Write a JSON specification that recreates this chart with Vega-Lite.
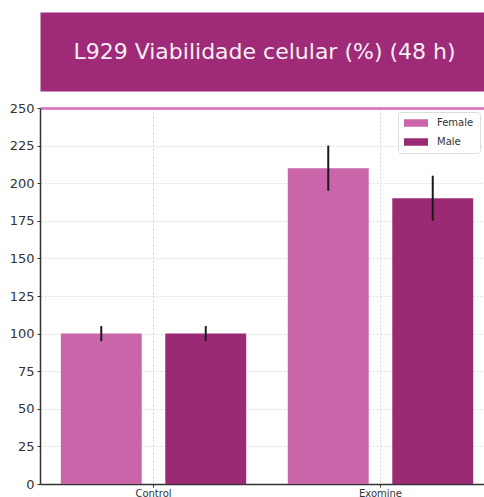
{
  "$schema": "https://vega.github.io/schema/vega-lite/v6.json",
  "autosize": "none",
  "width": 444,
  "height": 376,
  "padding": {"left": 40, "top": 108, "right": 0, "bottom": 13},
  "background": "white",
  "view": {"stroke": null},
  "config": {"axisY": {"labelOverlap": false}},
  "data": {"values": [
    {"group": "Control", "sex": "Female", "value": 100, "lo": 95, "hi": 105},
    {"group": "Control", "sex": "Male", "value": 100, "lo": 95, "hi": 105},
    {"group": "Exomine", "sex": "Female", "value": 210, "lo": 195, "hi": 225},
    {"group": "Exomine", "sex": "Male", "value": 190, "lo": 175, "hi": 205}
  ]},
  "layer": [
    {
      "mark": {"type": "bar"},
      "encoding": {
        "x": {
          "field": "group", "type": "nominal",
          "scale": {"range": [0, 454], "paddingInner": 0, "paddingOuter": 0},
          "axis": {
            "orient": "bottom", "title": null, "labelAngle": 0,
            "domainColor": "#333333", "domainWidth": 1.5,
            "tickColor": "#333333", "tickSize": 3, "tickWidth": 1,
            "labelFont": "DejaVu Sans", "labelFontSize": 10, "labelColor": "#333333", "labelPadding": 1,
            "grid": true, "gridColor": "#c8c8c8", "gridDash": [2, 2], "gridWidth": 0.8,
            "bandPosition": 0.5
          }
        },
        "xOffset": {"field": "sex", "type": "nominal", "scale": {"paddingInner": 0.2255, "paddingOuter": 0.199}},
        "y": {
          "field": "value", "type": "quantitative",
          "scale": {"domain": [0, 250], "nice": false},
          "axis": {
            "title": null, "values": [0, 25, 50, 75, 100, 125, 150, 175, 200, 225, 250],
            "labelOverlap": false,
            "labelFont": "DejaVu Sans", "labelFontSize": 13, "labelColor": "#333333", "labelPadding": 3,
            "tickColor": "#333333", "tickSize": 3, "domainColor": "#333333", "domainWidth": 1.5,
            "gridColor": {"condition": {"test": "datum.value === 250", "value": "#d96cb8"}, "value": "#d2d2d2"},
            "gridWidth": {"condition": {"test": "datum.value === 250", "value": 2.5}, "value": 0.8},
            "gridDash": {"condition": {"test": "datum.value === 250", "value": [1, 0]}, "value": [2, 2]}
          }
        },
        "color": {
          "field": "sex", "type": "nominal",
          "scale": {"domain": ["Female", "Male"], "range": ["#c965a8", "#9b2a74"]},
          "legend": {
            "title": null, "orient": "top-right", "offset": 4,
            "fillColor": "white", "strokeColor": "#dddddd", "cornerRadius": 3, "padding": 6,
            "labelFont": "DejaVu Sans", "labelFontSize": 10, "labelColor": "#333333", "labelOffset": 9,
            "symbolType": "M-1,-0.32H1V0.32H-1Z", "symbolSize": 576, "symbolStrokeWidth": 0, "symbolOpacity": 1,
            "clipHeight": 10, "rowPadding": 9
          }
        }
      }
    },
    {
      "mark": {"type": "rule", "color": "#1a1a1a", "strokeWidth": 2},
      "encoding": {
        "x": {
          "field": "group", "type": "nominal",
          "axis": {
            "orient": "top", "domain": true, "domainColor": "#9e2a78", "domainWidth": 79,
            "ticks": false, "labels": false, "grid": false, "offset": 56.5,
            "title": "L929 Viabilidade celular (%) (48 h)",
            "titleColor": "#f7eef4", "titleFont": "DejaVu Sans", "titleFontSize": 22, "titleFontWeight": "normal",
            "titleX": 224, "titleY": 0, "titleBaseline": "middle", "titleAlign": "center"
          }
        },
        "xOffset": {"field": "sex", "type": "nominal"},
        "y": {
          "field": "lo", "type": "quantitative",
          "axis": {
            "title": null, "values": [0, 25, 50, 75, 100, 125, 150, 175, 200, 225, 250],
            "labelOverlap": false,
            "labelFont": "DejaVu Sans", "labelFontSize": 13, "labelColor": "#333333", "labelPadding": 3,
            "tickColor": "#333333", "tickSize": 3, "domainColor": "#333333", "domainWidth": 1.5,
            "gridColor": {"condition": {"test": "datum.value === 250", "value": "#d96cb8"}, "value": "#d2d2d2"},
            "gridWidth": {"condition": {"test": "datum.value === 250", "value": 2.5}, "value": 0.8},
            "gridDash": {"condition": {"test": "datum.value === 250", "value": [1, 0]}, "value": [2, 2]}
          }
        },
        "y2": {"field": "hi"}
      }
    }
  ]
}
